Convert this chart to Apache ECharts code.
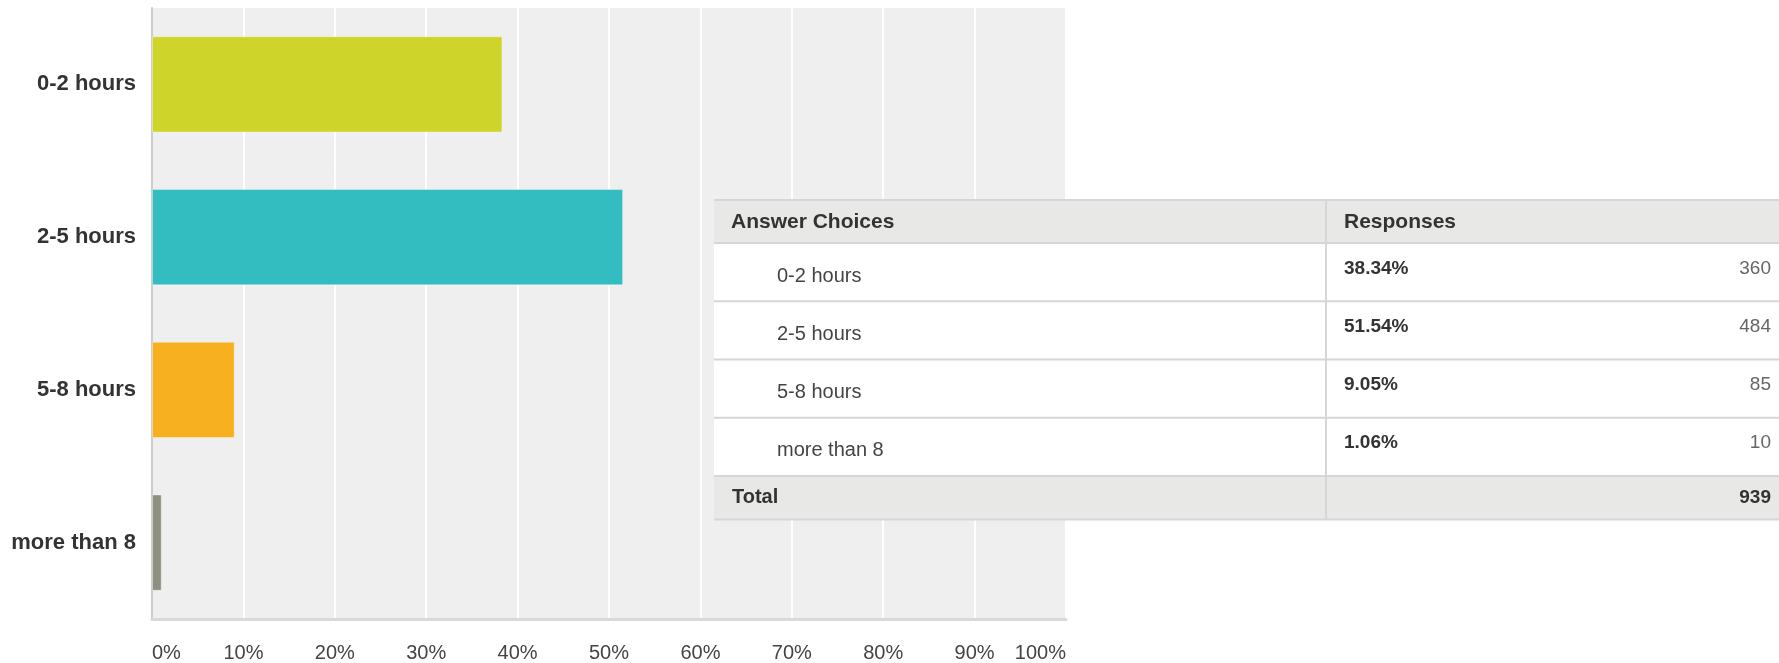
<!DOCTYPE html>
<html>
<head>
<meta charset="utf-8">
<script src="https://cdn.jsdelivr.net/npm/echarts@6/dist/echarts.min.js"></script>
<style>
  html, body { margin: 0; padding: 0; background: #ffffff; }
  #chart { width: 1779px; height: 663px; }
</style>
</head>
<body>
<div id="chart"></div>
<script>
// ---- data ----
var categories = ['0-2 hours', '2-5 hours', '5-8 hours', 'more than 8'];
var percentValues = [38.34, 51.54, 9.05, 1.06];
var responseCounts = [360, 484, 85, 10];
var totalResponses = 939;
var barColors = ['#CFD42A', '#33BDC0', '#F6B020', '#8E8F7E'];
var tableHeaders = ['Answer Choices', 'Responses'];
var totalLabel = 'Total';

// ---- table geometry (overlay) ----
var FONT = '"Liberation Sans", Arial, Helvetica, sans-serif';
var T = {
  left: 714, right: 1779, divider: 1326,
  headerTop: 200, headerBottom: 243,
  rowH: 58.25, borderColor: '#d6d6d6', shade: '#e8e8e6'
};
var rowsBottom = T.headerBottom + T.rowH * categories.length;
var totalBottom = rowsBottom + 43.5;

var graphics = [];
function rect(x, y, w, h, fill) {
  graphics.push({ type: 'rect', z: 100, silent: true,
    shape: { x: x, y: y, width: w, height: h }, style: { fill: fill } });
}
function hline(y) {
  graphics.push({ type: 'line', z: 101, silent: true,
    shape: { x1: T.left, y1: y, x2: T.right, y2: y },
    style: { stroke: T.borderColor, lineWidth: 2 } });
}
function text(str, x, y, size, weight, color, align) {
  graphics.push({ type: 'text', z: 102, silent: true,
    style: { text: str, x: x, y: y, fill: color, align: align || 'left',
      verticalAlign: 'middle', fontSize: size, fontWeight: weight, fontFamily: FONT } });
}

rect(T.left, T.headerTop, T.right - T.left, T.headerBottom - T.headerTop, T.shade);
rect(T.left, T.headerBottom, T.right - T.left, rowsBottom - T.headerBottom, '#ffffff');
rect(T.left, rowsBottom, T.right - T.left, totalBottom - rowsBottom, T.shade);
hline(T.headerTop);
hline(T.headerBottom);
for (var i = 1; i <= categories.length; i++) hline(T.headerBottom + T.rowH * i);
hline(totalBottom);
graphics.push({ type: 'line', z: 101, silent: true,
  shape: { x1: T.divider, y1: T.headerTop, x2: T.divider, y2: totalBottom },
  style: { stroke: T.borderColor, lineWidth: 2 } });

text(tableHeaders[0], 731, (T.headerTop + T.headerBottom) / 2 + 0.5, 21, 'bold', '#333333');
text(tableHeaders[1], 1344, (T.headerTop + T.headerBottom) / 2 + 0.5, 21, 'bold', '#333333');
categories.forEach(function (c, i) {
  var top = T.headerBottom + T.rowH * i;
  text(c, 777, top + 33, 20, 'normal', '#444444');
  text(percentValues[i].toFixed(2) + '%', 1344, top + 25.5, 19, 'bold', '#333333');
  text(String(responseCounts[i]), 1771, top + 25.5, 19, 'normal', '#666666', 'right');
});
text(totalLabel, 732, (rowsBottom + totalBottom) / 2, 20, 'bold', '#333333');
text(String(totalResponses), 1771, (rowsBottom + totalBottom) / 2, 19, 'bold', '#333333', 'right');

// ---- chart ----
var chart = echarts.init(document.getElementById('chart'), null, { renderer: 'canvas' });
chart.setOption({
  animation: false,
  backgroundColor: '#ffffff',
  grid: {
    left: 152, right: 713, top: 8, bottom: 44,
    show: true, backgroundColor: '#efefef', borderWidth: 0, containLabel: false
  },
  xAxis: {
    type: 'value', min: 0, max: 100, interval: 10,
    axisLine: { show: true, onZero: false, lineStyle: { color: '#d9d9d9', width: 3 } },
    axisTick: { show: false },
    splitLine: { show: true, lineStyle: { color: '#ffffff', width: 2 } },
    axisLabel: {
      formatter: '{value}%', fontSize: 20, color: '#444444', fontFamily: FONT,
      margin: 24, alignMinLabel: 'left', alignMaxLabel: 'right'
    }
  },
  yAxis: {
    type: 'category', inverse: true, data: categories,
    axisLine: { show: true, lineStyle: { color: '#cccccc', width: 2 } },
    axisTick: { show: false },
    splitLine: { show: false },
    axisLabel: { fontSize: 22, fontWeight: 'bold', color: '#333333', fontFamily: FONT, margin: 16 }
  },
  series: [{
    type: 'bar',
    barWidth: '63%',
    data: percentValues.map(function (v, i) {
      return { value: v, itemStyle: { color: barColors[i],
        borderColor: 'rgba(255,255,255,0.35)', borderWidth: 1 } };
    })
  }],
  graphic: graphics
});
</script>
</body>
</html>
